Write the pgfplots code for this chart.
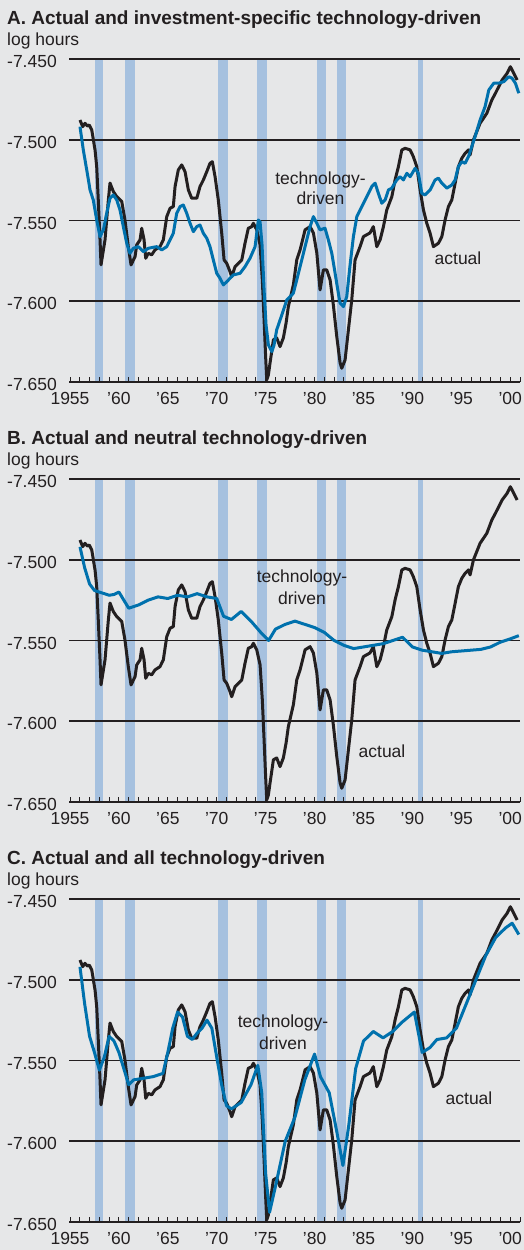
\documentclass[border=0pt]{standalone}
\usepackage{fontspec}
\setmainfont{Liberation Sans}
\usepackage{pgfplots}
\usepackage{pgfplotstable}
\pgfplotsset{compat=1.18}

\definecolor{bg}{RGB}{230,231,232}
\definecolor{rec}{RGB}{166,193,223}
\definecolor{techblue}{RGB}{0,113,173}
\definecolor{actualc}{RGB}{35,31,32}

\pgfplotstableread{
x y
1956.02 -7.4878
1956.30 -7.4919
1956.53 -7.4898
1956.77 -7.4915
1956.97 -7.4909
1957.22 -7.4939
1957.56 -7.5063
1957.73 -7.5167
1957.89 -7.5373
1958.07 -7.5620
1958.17 -7.5775
1958.58 -7.5620
1958.92 -7.5373
1959.09 -7.5268
1959.43 -7.5321
1959.78 -7.5352
1960.29 -7.5383
1960.62 -7.5497
1960.96 -7.5662
1961.24 -7.5775
1961.65 -7.5724
1961.82 -7.5651
1962.16 -7.5620
1962.33 -7.5548
1962.57 -7.5620
1962.74 -7.5734
1963.01 -7.5703
1963.35 -7.5713
1963.69 -7.5682
1964.20 -7.5662
1964.54 -7.5620
1964.89 -7.5476
1965.23 -7.5424
1965.56 -7.5414
1965.74 -7.5290
1966.07 -7.5187
1966.42 -7.5156
1966.76 -7.5198
1967.10 -7.5311
1967.44 -7.5362
1967.96 -7.5362
1968.29 -7.5290
1968.63 -7.5249
1968.98 -7.5198
1969.31 -7.5146
1969.55 -7.5136
1969.83 -7.5229
1970.16 -7.5373
1970.51 -7.5579
1970.75 -7.5744
1971.02 -7.5765
1971.36 -7.5817
1971.53 -7.5848
1971.87 -7.5786
1972.21 -7.5765
1972.56 -7.5744
1972.89 -7.5641
1973.23 -7.5548
1973.58 -7.5538
1973.74 -7.5517
1974.09 -7.5558
1974.43 -7.5651
1974.66 -7.5868
1974.84 -7.6116
1974.99 -7.6332
1975.11 -7.6487
1975.28 -7.6456
1975.45 -7.6382
1975.79 -7.6239
1976.13 -7.6227
1976.47 -7.6281
1976.81 -7.6227
1977.09 -7.6134
1977.32 -7.6033
1977.83 -7.5899
1978.18 -7.5744
1978.52 -7.5682
1979.03 -7.5558
1979.54 -7.5538
1979.88 -7.5577
1980.23 -7.5701
1980.56 -7.5930
1980.90 -7.5806
1981.25 -7.5806
1981.59 -7.5868
1981.92 -7.6023
1982.27 -7.6219
1982.61 -7.6382
1982.78 -7.6415
1983.12 -7.6363
1983.46 -7.6177
1983.80 -7.5992
1984.14 -7.5744
1984.65 -7.5662
1984.99 -7.5600
1985.67 -7.5577
1986.01 -7.5538
1986.36 -7.5662
1986.70 -7.5620
1987.04 -7.5538
1987.38 -7.5435
1987.90 -7.5352
1988.23 -7.5249
1988.57 -7.5167
1988.92 -7.5063
1989.25 -7.5053
1989.77 -7.5063
1990.10 -7.5105
1990.45 -7.5167
1990.79 -7.5311
1991.13 -7.5435
1991.47 -7.5517
1991.81 -7.5579
1992.15 -7.5662
1992.66 -7.5641
1993.01 -7.5600
1993.34 -7.5497
1993.68 -7.5414
1994.03 -7.5373
1994.37 -7.5269
1994.70 -7.5167
1995.05 -7.5115
1995.39 -7.5084
1995.73 -7.5063
1995.90 -7.5094
1996.24 -7.5001
1996.92 -7.4898
1997.61 -7.4836
1998.12 -7.4754
1998.49 -7.4712
1998.83 -7.4671
1999.17 -7.4630
1999.68 -7.4589
2000.02 -7.4548
2000.37 -7.4589
2000.71 -7.4630
}\actualdata

\pgfplotstableread{
x y
1956.02 -7.4919
1956.36 -7.5063
1956.71 -7.5187
1957.05 -7.5311
1957.38 -7.5373
1957.73 -7.5497
1958.07 -7.5600
1958.41 -7.5558
1958.75 -7.5455
1959.09 -7.5362
1959.43 -7.5342
1959.78 -7.5373
1960.11 -7.5435
1960.45 -7.5538
1960.80 -7.5641
1961.13 -7.5703
1961.47 -7.5672
1961.98 -7.5662
1962.50 -7.5693
1963.01 -7.5672
1963.86 -7.5662
1964.38 -7.5682
1964.89 -7.5662
1965.23 -7.5620
1965.56 -7.5579
1965.91 -7.5455
1966.25 -7.5414
1966.58 -7.5404
1966.93 -7.5455
1967.27 -7.5517
1967.61 -7.5569
1967.96 -7.5538
1968.29 -7.5528
1968.63 -7.5579
1968.98 -7.5610
1969.31 -7.5662
1969.65 -7.5744
1970.00 -7.5827
1970.34 -7.5858
1970.68 -7.5899
1971.02 -7.5879
1971.36 -7.5858
1971.70 -7.5837
1972.38 -7.5827
1972.89 -7.5786
1973.40 -7.5734
1973.92 -7.5662
1974.25 -7.5497
1974.43 -7.5509
1974.63 -7.5651
1974.84 -7.5930
1975.04 -7.6147
1975.28 -7.6270
1975.63 -7.6312
1975.86 -7.6270
1976.13 -7.6177
1976.65 -7.6085
1977.16 -7.5992
1977.67 -7.5961
1977.83 -7.5950
1978.18 -7.5868
1978.52 -7.5786
1978.86 -7.5703
1979.20 -7.5620
1979.54 -7.5538
1979.88 -7.5476
1980.23 -7.5517
1980.56 -7.5558
1981.07 -7.5548
1981.41 -7.5620
1981.76 -7.5703
1982.10 -7.5827
1982.43 -7.5950
1982.61 -7.6012
1982.95 -7.6033
1983.29 -7.5971
1983.63 -7.5775
1983.97 -7.5600
1984.32 -7.5476
1984.83 -7.5414
1985.34 -7.5352
1985.85 -7.5290
1986.19 -7.5269
1986.52 -7.5331
1986.87 -7.5393
1987.21 -7.5373
1987.55 -7.5311
1987.89 -7.5300
1988.40 -7.5249
1988.74 -7.5229
1989.08 -7.5249
1989.43 -7.5208
1989.77 -7.5229
1990.28 -7.5177
1990.61 -7.5208
1990.96 -7.5331
1991.30 -7.5342
1991.81 -7.5311
1992.32 -7.5249
1992.66 -7.5238
1993.01 -7.5269
1993.52 -7.5300
1994.03 -7.5280
1994.37 -7.5249
1994.70 -7.5167
1995.05 -7.5136
1995.39 -7.5146
1995.73 -7.5105
1996.07 -7.5043
1996.41 -7.4981
1996.92 -7.4878
1997.43 -7.4795
1997.81 -7.4692
1998.32 -7.4650
1998.83 -7.4650
1999.35 -7.4640
1999.86 -7.4610
2000.19 -7.4619
2000.53 -7.4650
2000.88 -7.4712
}\investdata

\pgfplotstableread{
x y
1956.02 -7.4920
1956.50 -7.5050
1957.00 -7.5150
1957.50 -7.5190
1958.00 -7.5200
1958.50 -7.5210
1959.00 -7.5220
1959.50 -7.5215
1960.00 -7.5200
1960.50 -7.5250
1961.00 -7.5300
1961.50 -7.5290
1962.00 -7.5280
1963.00 -7.5250
1964.00 -7.5230
1965.00 -7.5240
1966.00 -7.5220
1967.00 -7.5230
1968.00 -7.5210
1969.00 -7.5230
1970.00 -7.5240
1970.70 -7.5350
1971.50 -7.5370
1972.50 -7.5320
1973.50 -7.5380
1974.50 -7.5450
1975.30 -7.5500
1976.00 -7.5430
1977.00 -7.5400
1978.00 -7.5380
1979.00 -7.5400
1980.00 -7.5420
1981.00 -7.5450
1982.00 -7.5500
1983.00 -7.5530
1984.00 -7.5550
1985.00 -7.5540
1986.00 -7.5530
1987.00 -7.5520
1988.00 -7.5500
1989.00 -7.5480
1990.00 -7.5540
1991.00 -7.5560
1992.00 -7.5570
1993.00 -7.5580
1994.00 -7.5570
1995.00 -7.5565
1996.00 -7.5560
1997.00 -7.5555
1998.00 -7.5540
1999.00 -7.5510
2000.00 -7.5490
2000.88 -7.5470
}\neutraldata

\pgfplotstableread{
x y
1956.02 -7.4920
1956.50 -7.5150
1957.00 -7.5350
1957.50 -7.5450
1958.00 -7.5560
1958.50 -7.5480
1959.00 -7.5350
1959.50 -7.5380
1960.00 -7.5450
1960.50 -7.5550
1961.00 -7.5650
1961.50 -7.5620
1962.50 -7.5610
1963.50 -7.5600
1964.50 -7.5580
1965.00 -7.5450
1965.50 -7.5300
1966.00 -7.5200
1966.50 -7.5230
1967.00 -7.5350
1967.50 -7.5370
1968.00 -7.5330
1968.50 -7.5300
1969.00 -7.5250
1969.50 -7.5300
1970.00 -7.5480
1970.50 -7.5650
1971.00 -7.5780
1971.50 -7.5800
1972.50 -7.5760
1973.50 -7.5650
1974.20 -7.5530
1974.60 -7.5700
1975.00 -7.6200
1975.40 -7.6440
1976.00 -7.6280
1977.00 -7.6000
1978.00 -7.5850
1979.00 -7.5620
1980.00 -7.5460
1980.60 -7.5600
1981.50 -7.5700
1982.30 -7.5950
1982.90 -7.6150
1983.50 -7.5900
1984.20 -7.5550
1985.00 -7.5380
1986.00 -7.5320
1987.00 -7.5360
1988.00 -7.5320
1989.00 -7.5260
1990.20 -7.5200
1991.00 -7.5450
1991.80 -7.5420
1992.50 -7.5370
1993.50 -7.5360
1994.50 -7.5300
1995.50 -7.5150
1996.50 -7.5000
1997.50 -7.4850
1998.50 -7.4740
1999.50 -7.4680
2000.20 -7.4650
2000.88 -7.4720
}\alldata

\pgfplotsset{
  panel/.style={
    scale only axis, width=450pt, height=323pt, anchor=south west,
    xmin=1955, xmax=2001, ymin=-7.65, ymax=-7.45,
    axis line style={draw=none},
    axis on top, clip=false,
    tick pos=left,
    xtick={1955,1960,...,2000},
    xticklabels={1955,’60,’65,’70,’75,’80,’85,’90,’95,’00},
    minor xtick={1955,1956,...,2001},
    major tick length=5pt, minor tick length=5pt, tick align=inside,
    xtick style={actualc, line width=0.9pt},
    minor tick style={actualc, line width=0.9pt},
    ytick={-7.65,-7.6,-7.55,-7.5,-7.45},
    yticklabels={-7.650,-7.600,-7.550,-7.500,-7.450},
    ytick style={draw=none},
    ticklabel style={font=\fontsize{17.5}{20}\selectfont, inner sep=0pt, text=actualc},
    yticklabel style={anchor=east, xshift=-13pt, yshift=-2.5pt},
    xticklabel style={anchor=north, yshift=-10pt},
  },
  band/.style={draw=none, fill=rec, forget plot},
  grid line/.style={actualc, line width=1.6pt, forget plot},
  actual line/.style={actualc, line width=3pt, line join=round},
  tech line/.style={techblue, line width=3pt, line join=round},
}

\newcommand{\bands}{%
  \addplot[band] coordinates {(1957.56,-7.65) (1957.56,-7.45) (1958.40,-7.45) (1958.40,-7.65)};
  \addplot[band] coordinates {(1960.62,-7.65) (1960.62,-7.45) (1961.65,-7.45) (1961.65,-7.65)};
  \addplot[band] coordinates {(1970.08,-7.65) (1970.08,-7.45) (1971.19,-7.45) (1971.19,-7.65)};
  \addplot[band] coordinates {(1974.09,-7.65) (1974.09,-7.45) (1975.14,-7.45) (1975.14,-7.65)};
  \addplot[band] coordinates {(1980.23,-7.65) (1980.23,-7.45) (1981.18,-7.45) (1981.18,-7.65)};
  \addplot[band] coordinates {(1982.27,-7.65) (1982.27,-7.45) (1983.22,-7.45) (1983.22,-7.65)};
  \addplot[band] coordinates {(1990.55,-7.65) (1990.55,-7.45) (1991.06,-7.45) (1991.06,-7.65)};
  \addplot[grid line] coordinates {(1954.9,-7.45) (2001,-7.45)};
  \addplot[grid line] coordinates {(1954.9,-7.50) (2001,-7.50)};
  \addplot[grid line] coordinates {(1954.9,-7.55) (2001,-7.55)};
  \addplot[grid line] coordinates {(1954.9,-7.60) (2001,-7.60)};
  \addplot[grid line, line width=1.8pt] coordinates {(1954.9,-7.65) (2001,-7.65)};
}

\begin{document}
\begin{tikzpicture}[x=1pt,y=1pt]
\fill[bg] (0,0) rectangle (524,1250);
\useasboundingbox (0,0) rectangle (524,1250);

% Panel A
\node[anchor=base west, inner sep=0pt, text=actualc, font=\bfseries\fontsize{19}{22}\selectfont] at (7,1225) {A. Actual and investment-specific technology-driven};
\node[anchor=base west, inner sep=0pt, text=actualc, font=\fontsize{17.5}{20}\selectfont] at (7,1204.5) {log hours};
\begin{axis}[panel, at={(70pt,868pt)}]
\bands
\addplot[actual line] table {\actualdata};
\addplot[tech line] table {\investdata};
\end{axis}
\node[anchor=base, inner sep=0pt, text=actualc, font=\fontsize{17.5}{20}\selectfont] at (320.5,1065) {technology-};
\node[anchor=base, inner sep=0pt, text=actualc, font=\fontsize{17.5}{20}\selectfont] at (320.5,1045) {driven};
\node[anchor=base, inner sep=0pt, text=actualc, font=\fontsize{17.5}{20}\selectfont] at (458,985) {actual};

% Panel B
\node[anchor=base west, inner sep=0pt, text=actualc, font=\bfseries\fontsize{19}{22}\selectfont] at (7,805) {B. Actual and neutral technology-driven};
\node[anchor=base west, inner sep=0pt, text=actualc, font=\fontsize{17.5}{20}\selectfont] at (7,784.5) {log hours};
\begin{axis}[panel, at={(70pt,448pt)}]
\bands
\addplot[actual line] table {\actualdata};
\addplot[tech line] table {\neutraldata};
\end{axis}
\node[anchor=base, inner sep=0pt, text=actualc, font=\fontsize{17.5}{20}\selectfont] at (302,667) {technology-};
\node[anchor=base, inner sep=0pt, text=actualc, font=\fontsize{17.5}{20}\selectfont] at (302,645) {driven};
\node[anchor=base, inner sep=0pt, text=actualc, font=\fontsize{17.5}{20}\selectfont] at (382,492) {actual};

% Panel C
\node[anchor=base west, inner sep=0pt, text=actualc, font=\bfseries\fontsize{19}{22}\selectfont] at (7,385) {C. Actual and all technology-driven};
\node[anchor=base west, inner sep=0pt, text=actualc, font=\fontsize{17.5}{20}\selectfont] at (7,364.5) {log hours};
\begin{axis}[panel, at={(70pt,28pt)}]
\bands
\addplot[actual line] table {\actualdata};
\addplot[tech line] table {\alldata};
\end{axis}
\node[anchor=base, inner sep=0pt, text=actualc, font=\fontsize{17.5}{20}\selectfont] at (283,222) {technology-};
\node[anchor=base, inner sep=0pt, text=actualc, font=\fontsize{17.5}{20}\selectfont] at (283,200) {driven};
\node[anchor=base, inner sep=0pt, text=actualc, font=\fontsize{17.5}{20}\selectfont] at (469,145) {actual};
\end{tikzpicture}
\end{document}
